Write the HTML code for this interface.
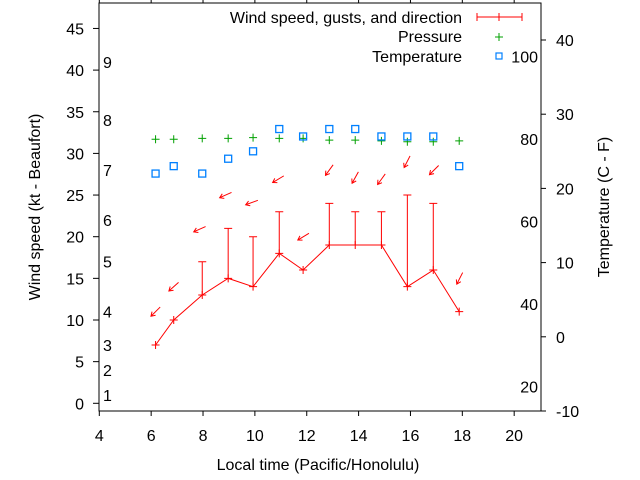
<!DOCTYPE html>
<html><head><meta charset="utf-8"><style>
html,body{margin:0;padding:0;background:#fff;}
svg{display:block;font-family:"Liberation Sans",sans-serif;font-size:16px;}
</style></head><body>
<svg id="chart" width="640" height="480" viewBox="0 0 640 480" xmlns="http://www.w3.org/2000/svg">
<rect x="0" y="0" width="640" height="480" fill="#fff"/>
<g id="axes"></g>
<g id="marks"></g>
<text transform="translate(40,207) rotate(-90)" text-anchor="middle">Wind speed (kt - Beaufort)</text>
<text transform="translate(609,207) rotate(-90)" text-anchor="middle">Temperature (C - F)</text>
<text x="318" y="470" text-anchor="middle">Local time (Pacific/Honolulu)</text>
<g>
<text x="462" y="23" text-anchor="end">Wind speed, gusts, and direction</text>
<line x1="477" y1="17" x2="522" y2="17" stroke="#f00"/><line x1="477" y1="13" x2="477" y2="21" stroke="#f00"/><line x1="522" y1="13" x2="522" y2="21" stroke="#f00"/><line x1="499" y1="13" x2="499" y2="21" stroke="#f00"/>
<text x="462" y="42" text-anchor="end">Pressure</text>
<path d="M495 37h8M499 33v8" stroke="#00a000"/>
<text x="462" y="62" text-anchor="end">Temperature</text>
<rect x="496" y="53" width="6" height="6" fill="none" stroke="#0080ff" stroke-width="1.2"/>
</g>
</svg>
<script>
const times=[6.17,6.87,7.97,8.97,9.93,10.94,11.86,12.87,13.87,14.88,15.88,16.88,17.88];
const wind=[7,10,13,15,14,18,16,19,19,19,14,16,11];
const gusts=[null,null,17,21,20,23,null,24,23,23,25,24,null];
const pressure=[31.7,31.7,31.8,31.8,31.9,31.8,31.8,31.6,31.6,31.5,31.4,31.4,31.5];
const tempC=[22,23,22,24,25,28,27,28,28,27,27,27,23];
const arrowT=[6.17,6.87,7.87,8.87,9.88,10.9,11.87,12.87,13.87,14.88,15.87,16.91,17.9];
const arrowV=[11,14,20.9,25,24.1,26.9,20,28,27.1,26.9,29,28,15];
const dirs=[45,48,66,66,70,59,59,36,29,36,27,45,27];
const xTicks=[4,6,8,10,12,14,16,18,20];
const yTicks=[0,5,10,15,20,25,30,35,40,45];
const y2Ticks=[-10,0,10,20,30,40];
const fTicks=[20,40,60,80,100];
const bft=[1,2,3,4,5,6,7,8,9];
const bftKt=[1,4,7,11,17,22,28,34,41];
const NS="http://www.w3.org/2000/svg";
const xs=t=>99.3+(t-4)*25.93, ys=v=>403.3-v*8.33, yc=c=>411-(c+10)*7.42;
function mk(p,tag,a){const e=document.createElementNS(NS,tag);for(const k in a)e.setAttribute(k,a[k]);p.appendChild(e);return e;}
const ax=document.getElementById('axes'), mg=document.getElementById('marks');
const fr=mk(ax,'rect',{x:99,y:3,width:442,height:408,fill:'none',stroke:'#000'});


xTicks.forEach(t=>{const x=xs(t);
 mk(ax,'line',{x1:x,y1:411,x2:x,y2:416,stroke:'#000'});
 mk(ax,'line',{x1:x,y1:3,x2:x,y2:-2,stroke:'#000'});
 const l=mk(ax,'text',{x:x,y:441,'text-anchor':'middle'});l.textContent=t;
 
 });
yTicks.forEach(v=>{const y=ys(v);
 mk(ax,'line',{x1:93,y1:y,x2:99,y2:y,stroke:'#000'});
 const l=mk(ax,'text',{x:84,y:y+6,'text-anchor':'end'});l.textContent=v;
 
 });
y2Ticks.forEach(c=>{const y=yc(c);
 mk(ax,'line',{x1:541,y1:y,x2:546,y2:y,stroke:'#000'});
 const l=mk(ax,'text',{x:556,y:y+6,'text-anchor':'start'});l.textContent=c;
 
 });
fTicks.forEach(f=>{const y=yc((f-32)*5/9);
 const l=mk(ax,'text',{x:538,y:y+6,'text-anchor':'end'});l.textContent=f;
 
 });
bft.forEach((b,i)=>{const y=ys(bftKt[i]);
 const l=mk(ax,'text',{x:103,y:y+6,'text-anchor':'start'});l.textContent=b;
 
 });
const pl=mk(mg,'polyline',{points:times.map((t,i)=>xs(t)+','+ys(wind[i])).join(' '),fill:'none',stroke:'#f00'});


times.forEach((t,i)=>{const x=xs(t),y=ys(wind[i]);
 const p=mk(mg,'path',{d:`M${x-4} ${y}h8M${x} ${y-4}v8`,stroke:'#f00'});
 
 
 if(gusts[i]!=null){const g=ys(gusts[i]);
  const gb=mk(mg,'path',{d:`M${x} ${y}V${g}M${x-4} ${g}h8`,stroke:'#f00'});
  
  }
 const py=ys(pressure[i]);
 const pp=mk(mg,'path',{d:`M${x-4} ${py}h8M${x} ${py-4}v8`,stroke:'#00a000'});
 
 
 const ty=yc(tempC[i]);
 const tr=mk(mg,'rect',{x:x-3.5,y:ty-3.5,width:7,height:7,fill:'none',stroke:'#0080ff','stroke-width':1.3});
 
 });
arrowT.forEach((t,i)=>{const cx=xs(t),cy=ys(arrowV[i]),a=dirs[i]*Math.PI/180,L=6.5;
 const ux=Math.sin(a),uy=-Math.cos(a);
 const tx=cx+ux*L,ty=cy+uy*L,hx=cx-ux*L,hy=cy-uy*L;
 const px=-uy,py=ux;
 const b1x=hx+ux*4+px*2.5,b1y=hy+uy*4+py*2.5,b2x=hx+ux*4-px*2.5,b2y=hy+uy*4-py*2.5;
 const ar=mk(mg,'path',{d:`M${tx} ${ty}L${hx} ${hy}M${b1x} ${b1y}L${hx} ${hy}L${b2x} ${b2y}`,stroke:'#f00',fill:'none'});
 
 });
</script>
</body></html>
